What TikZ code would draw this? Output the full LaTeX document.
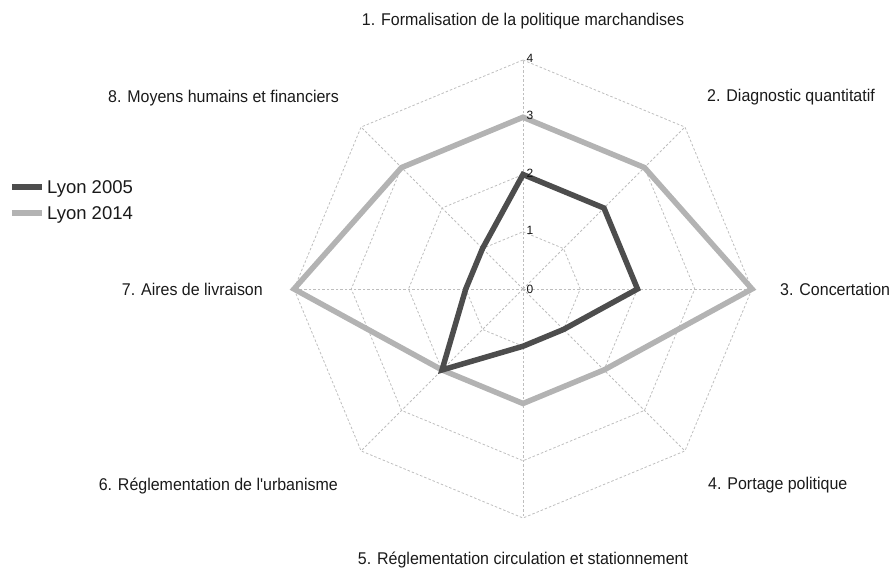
\documentclass[tikz,border=0pt]{standalone}
\usepackage{fontspec}
\setmainfont{Liberation Sans}[Ligatures=TeXOff]
\usepackage{graphicx}
\definecolor{dark05}{RGB}{77,77,77}
\definecolor{light14}{RGB}{179,179,179}
\definecolor{gridgray}{RGB}{190,190,190}
\definecolor{labcol}{RGB}{26,26,26}
\definecolor{tickcol}{RGB}{20,20,20}
\tikzset{
  gridline/.style={draw=gridgray, line width=0.8pt, dash pattern=on 2.5pt off 2pt},
  ser05/.style={draw=dark05, line width=5.5pt, line join=miter},
  ser14/.style={draw=light14, line width=5.5pt, line join=miter},
  cat/.style={inner sep=0pt, font=\fontsize{17}{20}\selectfont, text=labcol},
  ticklab/.style={inner sep=0pt, font=\fontsize{12}{14}\selectfont, text=tickcol, anchor=west},
  leg/.style={inner sep=0pt, font=\fontsize{18.5}{22}\selectfont, anchor=base west, text=labcol},
  legline/.style={line width=5.5pt}
}
\newcommand{\cond}[1]{\scalebox{0.94}[1]{#1}}
\begin{document}
\begin{tikzpicture}[x=1pt,y=1pt]
\useasboundingbox (-523,-280) rectangle (368,289);
\def\uu{57.25}
\coordinate (C) at (0,0);
% grid points
\foreach \k in {1,2,3,4}{
  \foreach \i in {1,...,8}{
    \coordinate (g\k-\i) at ({90-45*(\i-1)}:{\k*\uu});
  }
  \draw[gridline] (g\k-1) -- (g\k-2) -- (g\k-3) -- (g\k-4) -- (g\k-5) -- (g\k-6) -- (g\k-7) -- (g\k-8) -- cycle;
}
\foreach \i in {1,...,8}{
  \draw[gridline] (C) -- (g4-\i);
}
% data
\foreach \v [count=\i] in {3,3,4,2,2,2,4,3}{
  \coordinate (b\i) at ({90-45*(\i-1)}:{\v*\uu});
}
\foreach \v [count=\i] in {2,2,2,1,1,2,1,1}{
  \coordinate (a\i) at ({90-45*(\i-1)}:{\v*\uu});
}
\draw[ser14] (b1) -- (b2) -- (b3) -- (b4) -- (b5) -- (b6) -- (b7) -- (b8) -- cycle;
\draw[ser05] (a1) -- (a2) -- (a3) -- (a4) -- (a5) -- (a6) -- (a7) -- (a8) -- cycle;
% tick labels
\node[ticklab] (t0) at (3.5,0) {0};
\foreach \k in {1,2,3,4}{
  \node[ticklab] (t\k) at (3.5,{\k*\uu+1.5}) {\k};
}
% category labels
\node[cat, anchor=base] (l1) at (0,263) {\cond{1. Formalisation de la politique marchandises}};
\node[cat, anchor=base west] (l2) at (184,187.5) {\cond{2. Diagnostic quantitatif}};
\node[cat, anchor=base west] (l3) at (257,-7) {\cond{3. Concertation}};
\node[cat, anchor=base west] (l4) at (185,-201) {\cond{4. Portage politique}};
\node[cat, anchor=base] (l5) at (0,-276) {\cond{5. Réglementation circulation et stationnement}};
\node[cat, anchor=base east] (l6) at (-185,-201.5) {\cond{6. Réglementation de l'urbanisme}};
\node[cat, anchor=base east] (l7) at (-260,-7) {\cond{7. Aires de livraison}};
\node[cat, anchor=base east] (l8) at (-184,186.5) {\cond{8. Moyens humains et financiers}};
% legend
\coordinate (k1s) at (-511,102);
\coordinate (k1e) at (-481,102);
\coordinate (k2s) at (-511,76);
\coordinate (k2e) at (-481,76);
\draw[legline, draw=dark05] (k1s) -- (k1e);
\draw[legline, draw=light14] (k2s) -- (k2e);
\node[leg] (leg1) at (-476,95) {Lyon 2005};
\node[leg] (leg2) at (-476,69) {Lyon 2014};
\end{tikzpicture}
\end{document}
